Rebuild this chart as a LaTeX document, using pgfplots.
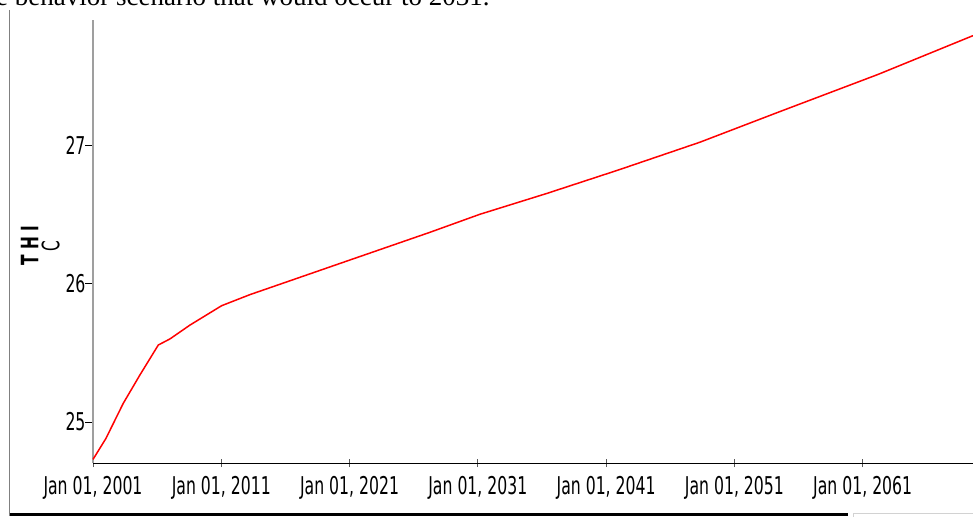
\documentclass[border=0pt]{standalone}
\usepackage{fontspec}
\usepackage{pgfplots}
\pgfplotsset{compat=1.18}
\newfontfamily\tkfont[FakeStretch=0.64]{DejaVu Sans}
\newfontfamily\seriffont{Liberation Serif}

\begin{document}
\begin{tikzpicture}
\begin{axis}[
  at={(93pt,53pt)}, anchor=south west,
  scale only axis, width=880pt, height=443pt,
  xmin=2001, xmax=2069.6, ymin=24.704, ymax=27.903,
  axis x line*=bottom, axis y line*=left,
  x axis line style={black, line width=1pt},
  y axis line style={gray!75, line width=1.2pt},
  xtick={2001,2011,2021,2031,2041,2051,2061},
  xticklabels={{Jan 01, 2001},{Jan 01, 2011},{Jan 01, 2021},{Jan 01, 2031},{Jan 01, 2041},{Jan 01, 2051},{Jan 01, 2061}},
  ytick={25,26,27}, yticklabels={25,26,27},
  major tick length=8pt,
  xtick align=center, ytick align=outside,
  x tick style={black!65, line width=0.8pt},
  y tick style={black, line width=1pt},
  tick label style={font=\fontsize{24.5}{27}\selectfont\tkfont},
  xticklabel style={yshift=-6pt},
  yticklabel style={xshift=4pt},
  ylabel={{\bfseries T H I}\\C},
  ylabel style={align=center, font=\fontsize{24}{21}\selectfont\tkfont,
    at={(axis description cs:-0.06,0.49)}, anchor=center},
  clip=false,
]
\addplot[red, line width=1.5pt] coordinates {
  (2001,24.73) (2002,24.88) (2003.36,25.135) (2004.66,25.34) (2006.09,25.556)
  (2007,25.60) (2008.56,25.70) (2011.03,25.84) (2013.24,25.92) (2016.36,26.02)
  (2021.03,26.17) (2027.27,26.37) (2031.16,26.50) (2036.36,26.65) (2041.96,26.82)
  (2048.3,27.02) (2054.5,27.24) (2062.2,27.51) (2069.6,27.79)
};
\end{axis}
% page frame around the chart
\draw[gray, line width=1.2pt] (9.5pt,506pt) -- (9.5pt,0pt);
\draw[black, line width=3pt] (9.5pt,1.5pt) -- (848pt,1.5pt);
\draw[gray!35, line width=0.8pt] (853.5pt,-5pt) rectangle (980pt,3pt);
\node[font=\seriffont\fontsize{27}{27}\selectfont, anchor=base west, inner sep=0pt]
  at (-4pt,510pt) {e behavior scenario that would occur to 2031.};
\pgfresetboundingbox
\path[use as bounding box] (0pt,0pt) rectangle (973pt,516pt);
\end{tikzpicture}
\end{document}
